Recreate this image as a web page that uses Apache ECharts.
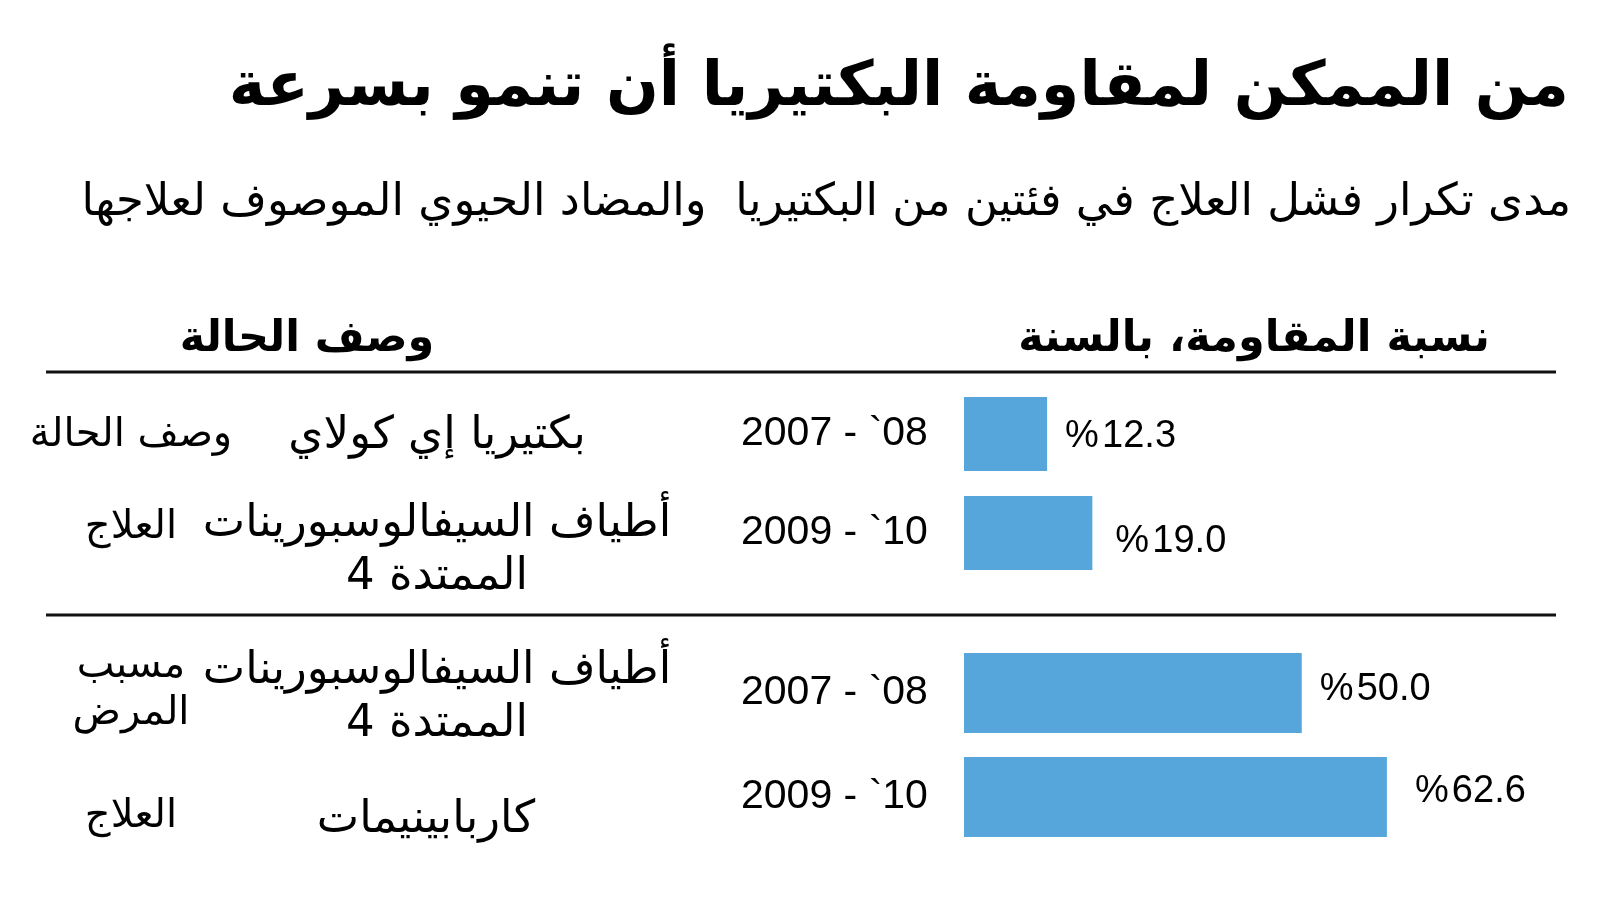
<!DOCTYPE html>
<html><head><meta charset="utf-8">
<script src="https://cdn.jsdelivr.net/npm/echarts@6/dist/echarts.min.js"></script>
<style>html,body{margin:0;padding:0;background:#fff}#c{width:1600px;height:900px}</style>
</head><body><div id="c"></div>
<script>
const titleText = 'من الممكن لمقاومة البكتيريا أن تنمو بسرعة';
const subtitleText = 'مدى تكرار فشل العلاج في فئتين من البكتيريا  والمضاد الحيوي الموصوف لعلاجها';
const headerRate = 'نسبة المقاومة، بالسنة';
const headerDesc = 'وصف الحالة';
const periodsTop = ['2007 - `08', '2009 - `10'];
const periodsBottom = ['2007 - `08', '2009 - `10'];
const valuesTop = [12.3, 19.0];
const valuesBottom = [50.0, 62.6];
const rowLabels = ['وصف الحالة', 'العلاج', 'مسبب\nالمرض', 'العلاج'];
const rowNames = ['بكتيريا إي كولاي', 'أطياف السيفالوسبورينات\nالممتدة 4', 'أطياف السيفالوسبورينات\nالممتدة 4', 'كاربابينيمات'];

const AR = '"DejaVu Sans", "Noto Sans", sans-serif';
const NUM = '"Liberation Sans Narrow", "Liberation Sans", Arial, sans-serif';
const BLUE = '#56a6dc';

// layout-only tweaks (pixel offsets of value labels)
const labelOffsetsTop = [[0, 3], [5, 9]];
const labelOffsetsBottom = [[0, -3], [10, -5]];

const chart = echarts.init(document.getElementById('c'), null, {renderer: 'canvas'});

function txt(text, x, y, size, weight, align, lh) {
  return {type: 'text', style: {text: text, x: x, y: y, fill: '#000',
    font: weight + ' ' + size + 'px ' + AR, align: align, verticalAlign: 'middle', lineHeight: lh || size * 1.3}};
}

const rowNameY = [436, 551, 698, 820];
const rowNameX = [437, 437, 437, 426];
const rowLabelY = [436, 528, 690, 817];

const graphics = [
  txt(titleText, 1569, 89, 62, 'bold', 'right'),
  txt(subtitleText, 1571, 203, 45, 'normal', 'right'),
  txt(headerRate, 1490, 340, 43, 'bold', 'right'),
  txt(headerDesc, 307, 340, 43, 'bold', 'center'),
  {type: 'line', shape: {x1: 46, y1: 372, x2: 1556, y2: 372}, style: {stroke: '#111', lineWidth: 3}},
  {type: 'line', shape: {x1: 46, y1: 615, x2: 1556, y2: 615}, style: {stroke: '#111', lineWidth: 3}}
];
rowNames.forEach((t, i) => graphics.push(txt(t, rowNameX[i], rowNameY[i], 45, 'normal', 'center', i === 1 || i === 2 ? 53 : 50)));
rowLabels.forEach((t, i) => graphics.push(txt(t, 131, rowLabelY[i], 40, 'normal', 'center', 47)));

function yAx(gi, cats) {
  return {type: 'category', gridIndex: gi, data: cats, inverse: true,
    axisLine: {show: false}, axisTick: {show: false}, splitLine: {show: false},
    axisLabel: {align: 'left', margin: 223, fontFamily: NUM, fontSize: 41, color: '#000'}};
}
function xAx(gi) {
  return {type: 'value', gridIndex: gi, min: 0, max: 90, show: false};
}
function barSeries(gi, vals, bw, offs) {
  return {type: 'bar', xAxisIndex: gi, yAxisIndex: gi, barWidth: bw,
    data: vals.map((v, i) => ({value: v, label: {offset: offs[i]}})),
    itemStyle: {color: BLUE}, silent: true,
    label: {show: true, position: 'right', distance: 18, fontFamily: NUM, fontSize: 38, color: '#000',
      formatter: p => '%\u200A' + p.value.toFixed(1)}};
}

chart.setOption({
  animation: false,
  backgroundColor: '#fff',
  grid: [
    {left: 964, width: 608, top: 384.5, height: 198, outerBoundsMode: 'none'},
    {left: 964, width: 608, top: 641, height: 208, outerBoundsMode: 'none'}
  ],
  xAxis: [xAx(0), xAx(1)],
  yAxis: [yAx(0, periodsTop), yAx(1, periodsBottom)],
  series: [barSeries(0, valuesTop, 74, labelOffsetsTop), barSeries(1, valuesBottom, 80, labelOffsetsBottom)],
  graphic: graphics
});
</script></body></html>
